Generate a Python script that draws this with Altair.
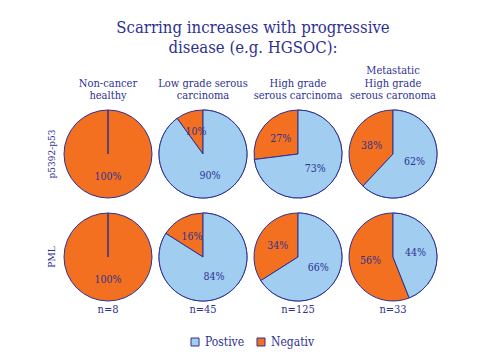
import altair as alt
import pandas as pd

groups = ["Non-cancer|healthy", "Low grade serous|carcinoma",
          "High grade|serous carcinoma", "Metastatic|High grade|serous caronoma"]
markers = ["p5392-p53", "PML"]
statuses = ["Postive", "Negativ"]
p53_positive = [0, 90, 73, 62]
p53_negative = [100, 10, 27, 38]
pml_positive = [0, 84, 66, 44]
pml_negative = [100, 16, 34, 56]
n_labels = ["n=8", "n=45", "n=125", "n=33"]

DARK = "#2e3192"
BLUE = "#a0cdf0"
ORANGE = "#f37021"
FONT = "DejaVu Serif Condensed"

rows = []
for marker, pos, neg in [("p5392-p53", p53_positive, p53_negative),
                         ("PML", pml_positive, pml_negative)]:
    for i, g in enumerate(groups):
        for k, (s, v) in enumerate(zip(statuses, [pos[i], neg[i]])):
            rows.append({"marker": marker, "group": g, "status": s, "order": k,
                         "value": v, "label": f"{v}%", "n": n_labels[i]})
df = pd.DataFrame(rows)

base = alt.Chart()

color = alt.Color("status:N", scale=alt.Scale(domain=statuses, range=[BLUE, ORANGE]),
                  legend=alt.Legend(title=None, orient="none", direction="horizontal",
                                    legendX=125, legendY=226, symbolType="square",
                                    symbolSize=64, symbolStrokeColor=DARK,
                                    symbolStrokeWidth=1, symbolOpacity=1,
                                    labelFont=FONT, labelFontSize=12, labelColor=DARK,
                                    labelExpr="datum.label == 'Postive' ? '\u00a0\u00a0Postive' : datum.label",
                                    columnPadding=10, labelOffset=4))

arcs = base.mark_arc(stroke=DARK, strokeWidth=1).encode(
    theta=alt.Theta("value:Q", stack=True),
    color=color,
    order=alt.Order("order:Q"),
)

# positive wedges redrawn on top so the 0% wedge edge stays visible
pos_top = base.transform_filter("datum.status == 'Postive'").mark_arc(
    stroke=DARK, strokeWidth=1
).encode(
    theta=alt.Theta("value:Q", stack=True),
    color=color,
    order=alt.Order("order:Q"),
)

labels = base.transform_filter("datum.value > 0").mark_text(
    radius=23, font=FONT, fontSize=10.5, color=DARK
).encode(
    theta=alt.Theta("value:Q", stack=True),
    text="label:N",
    order=alt.Order("order:Q"),
)

nlab = base.transform_filter(
    "datum.marker == 'PML' && datum.status == 'Postive'"
).mark_text(font=FONT, fontSize=11, color=DARK).encode(
    x=alt.value(44), y=alt.value(97), text="n:N"
)

chart = alt.layer(arcs, pos_top, labels, nlab, data=df).properties(
    width=88, height=88
).facet(
    row=alt.Row("marker:N", sort=markers,
                header=alt.Header(title=None, labelAngle=-90, labelOrient="left",
                                  labelFont=FONT, labelFontSize=10, labelColor=DARK,
                                  labelPadding=2)),
    column=alt.Column("group:N", sort=groups,
                      header=alt.Header(title=None, labelExpr="split(datum.value, '|')",
                                        labelFont=FONT, labelFontSize=11,
                                        labelColor=DARK, labelBaseline="bottom",
                                        labelLineHeight=12.5, labelPadding=-2)),
    spacing={"row": 15, "column": 7},
    bounds="flush",
).properties(
    title=alt.TitleParams(["Scarring increases with progressive", "disease (e.g. HGSOC):"],
                          font=FONT, fontSize=16.6, fontWeight="normal", color=DARK,
                          anchor="middle", lineHeight=20, offset=8, dx=10),
    padding={"left": 38, "top": 12, "right": 5, "bottom": 5},
).configure_view(stroke=None)

chart.save("out.html", embed_options={"renderer": "svg", "actions": False})
